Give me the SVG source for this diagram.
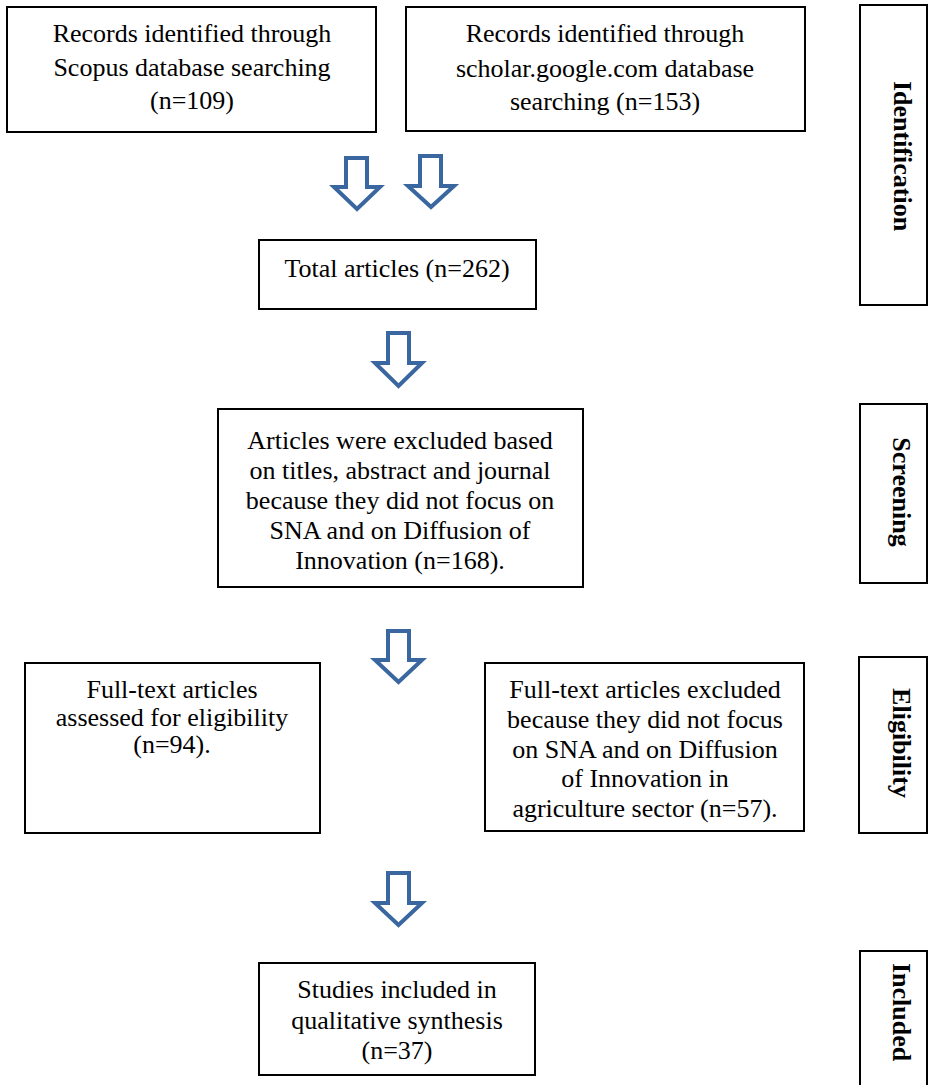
<svg xmlns="http://www.w3.org/2000/svg" width="930" height="1085" viewBox="0 0 930 1085">
<style>
.box{fill:#fff;stroke:#000;stroke-width:2}
.t{font-family:"Liberation Serif","Times New Roman",serif;font-size:26px;fill:#000;text-anchor:middle}
.s{font-family:"Liberation Serif","Times New Roman",serif;font-size:26px;font-weight:bold;fill:#000;text-anchor:middle}
.arr{fill:#fff;stroke:#3A679F;stroke-width:4;stroke-linejoin:miter}
</style>
<rect width="930" height="1085" fill="#fff"/>
<g id="scopus">
<rect class="box" x="7" y="7" width="369" height="125"/>
<text class="t" x="192" y="42">Records identified through</text>
<text class="t" x="192" y="76">Scopus database searching</text>
<text class="t" x="192" y="109">(n=109)</text>
</g>
<g id="scholar">
<rect class="box" x="406" y="7" width="399" height="124"/>
<text class="t" x="605" y="42">Records identified through</text>
<text class="t" x="605" y="77">scholar.google.com database</text>
<text class="t" x="605" y="110">searching (n=153)</text>
</g>
<g id="total">
<rect class="box" x="259" y="240" width="277" height="69"/>
<text class="t" x="397" y="277">Total articles (n=262)</text>
</g>
<g id="screened">
<rect class="box" x="218" y="409" width="365" height="178"/>
<text class="t" x="400" y="449">Articles were excluded based</text>
<text class="t" x="400" y="479">on titles, abstract and journal</text>
<text class="t" x="400" y="509">because they did not focus on</text>
<text class="t" x="400" y="539">SNA and on Diffusion of</text>
<text class="t" x="400" y="569">Innovation (n=168).</text>
</g>
<g id="fulltext">
<rect class="box" x="25" y="663" width="295" height="170"/>
<text class="t" x="172" y="698">Full-text articles</text>
<text class="t" x="172" y="726">assessed for eligibility</text>
<text class="t" x="172" y="753">(n=94).</text>
</g>
<g id="excluded">
<rect class="box" x="485" y="663" width="319" height="168"/>
<text class="t" x="645" y="698">Full-text articles excluded</text>
<text class="t" x="645" y="728">because they did not focus</text>
<text class="t" x="645" y="758">on SNA and on Diffusion</text>
<text class="t" x="645" y="787">of Innovation in</text>
<text class="t" x="645" y="817">agriculture sector (n=57).</text>
</g>
<g id="included">
<rect class="box" x="259" y="963" width="276" height="112"/>
<text class="t" x="397" y="998">Studies included in</text>
<text class="t" x="397" y="1029">qualitative synthesis</text>
<text class="t" x="397" y="1059">(n=37)</text>
</g>
<g id="stage-identification">
<rect class="box" x="860" y="5" width="67" height="300"/>
<text class="s" transform="translate(894,156) rotate(90)">Identification</text>
</g>
<g id="stage-screening">
<rect class="box" x="860" y="404" width="67" height="179"/>
<text class="s" transform="translate(893,492) rotate(90)">Screening</text>
</g>
<g id="stage-eligibility">
<rect class="box" x="859" y="657" width="68" height="176"/>
<text class="s" transform="translate(893,743) rotate(90)">Eligibility</text>
</g>
<g id="stage-included">
<rect class="box" x="860" y="951" width="67" height="140"/>
<text class="s" transform="translate(893,1012) rotate(90)">Included</text>
</g>
<g id="connectors">
<polygon class="arr" points="346,158 367,158 367,187 380,187 357,209 334,187 346,187"/>
<polygon class="arr" points="420,156 441,156 441,186 454,186 431,207 408,186 420,186"/>
<polygon class="arr" points="388,333 409,333 409,363 422,363 398.5,386 375,363 388,363"/>
<polygon class="arr" points="388,631 409,631 409,660 422,660 398.5,682 375,660 388,660"/>
<polygon class="arr" points="388,873 409,873 409,903 422,903 398.5,925 375,903 388,903"/>
</g>
</svg>
